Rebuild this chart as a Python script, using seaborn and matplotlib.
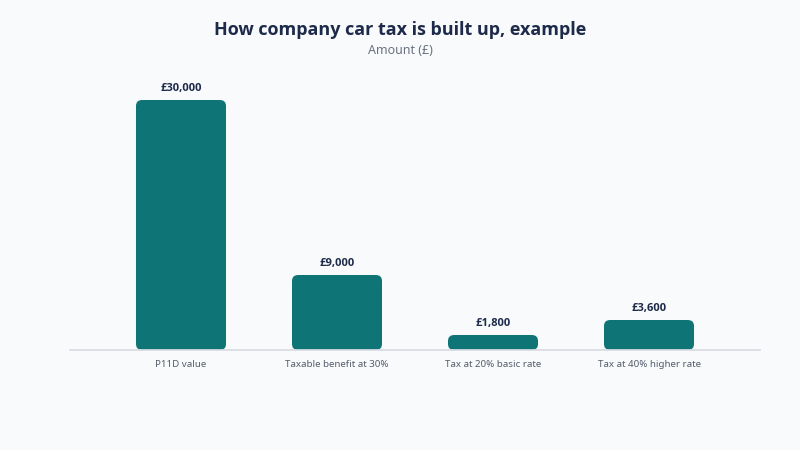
import matplotlib
matplotlib.use("Agg")
import matplotlib.pyplot as plt
import seaborn as sns
import pandas as pd
from matplotlib.patches import FancyBboxPatch

categories = ["P11D value", "Taxable benefit at 30%", "Tax at 20% basic rate", "Tax at 40% higher rate"]
values = [30000, 9000, 1800, 3600]
labels = ["£30,000", "£9,000", "£1,800", "£3,600"]

sns.set_theme(style="white")
plt.rcParams['font.family'] = ['Noto Sans', 'DejaVu Sans']
bold = ['Open Sans', 'DejaVu Sans']
bg = "#f8fafc"
fig = plt.figure(figsize=(8, 4.5), dpi=100, facecolor=bg)
ax = fig.add_axes([70/800, 100/450, 690/800, 250/450], facecolor=bg)
df = pd.DataFrame({"cat": categories, "val": values})
sns.barplot(data=df, x="cat", y="val", color="#0e7475", width=0.577, ax=ax, saturation=1)
ax.set_xlim(-0.7115, 3.7115)
ax.set_ylim(0, 30000)
for p in list(ax.patches):
    x, y, w, h = p.get_x(), p.get_y(), p.get_width(), p.get_height()
    p.remove()
    fb = FancyBboxPatch((x, y), w, h, boxstyle="round,pad=0,rounding_size=0.04",
                        mutation_aspect=18000, facecolor="#0e7475", edgecolor="none", clip_on=False)
    ax.add_patch(fb)
for i, (v, l) in enumerate(zip(values, labels)):
    ax.annotate(l, (i, v), xytext=(0, 4), textcoords="offset points", ha="center", va="bottom",
                fontsize=8, fontweight="bold", color="#1e2a4a", family=bold)
for s in ["top", "right", "left"]:
    ax.spines[s].set_visible(False)
ax.spines["bottom"].set_color("#d8dde3")
ax.set_yticks([])
ax.set_xlabel(""); ax.set_ylabel("")
ax.tick_params(axis="x", length=0, labelsize=7, labelcolor="#555e6b", pad=7)
fig.text(0.5, 1-30/450, "How company car tax is built up, example", ha="center", va="center",
         fontsize=13, fontweight="bold", color="#1e2a4a", family=bold)
fig.text(0.5, 1-51/450, "Amount (£)", ha="center", va="center", fontsize=9, color="#6b7280")
fig.savefig("out.png", dpi=100, facecolor=bg)
